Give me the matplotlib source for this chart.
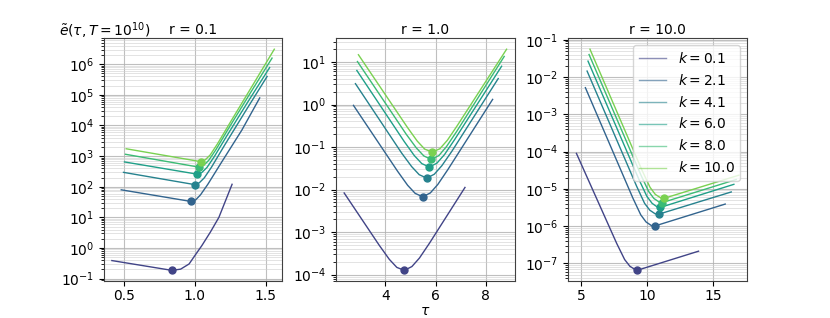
import numpy as np
import matplotlib
matplotlib.use('Agg')
import matplotlib.pyplot as plt

# parameters of the curves
k_values = [0.1, 2.1, 4.1, 6.0, 8.0, 10.0]
r_values = [0.1, 1.0, 10.0]

# r = 0.1 : tau and log10 of the error, one list per k
tau_r01 = [
    [0.415, 0.839, 0.90, 0.96, 1.00, 1.05, 1.11, 1.17, 1.263],
    [0.481, 0.973, 1.006, 1.041, 1.092, 1.182, 1.332, 1.458],
    [0.497, 0.999, 1.032, 1.067, 1.118, 1.208, 1.358, 1.510],
    [0.504, 1.018, 1.051, 1.086, 1.137, 1.227, 1.377, 1.528],
    [0.511, 1.030, 1.063, 1.098, 1.149, 1.239, 1.389, 1.545],
    [0.516, 1.041, 1.074, 1.109, 1.160, 1.250, 1.400, 1.561],
]
log_err_r01 = [
    [-0.41, -0.73, -0.69, -0.52, -0.25, 0.08, 0.52, 1.00, 2.08],
    [1.90, 1.52, 1.57, 1.74, 2.08, 2.75, 3.85, 4.90],
    [2.47, 2.07, 2.13, 2.29, 2.64, 3.34, 4.47, 5.60],
    [2.81, 2.41, 2.47, 2.63, 2.98, 3.67, 4.79, 5.89],
    [3.06, 2.64, 2.70, 2.86, 3.21, 3.91, 5.04, 6.20],
    [3.24, 2.82, 2.88, 3.04, 3.40, 4.10, 5.25, 6.49],
]
opt_tau_r01 = [0.839, 0.973, 0.999, 1.018, 1.030, 1.041]
opt_log_r01 = [-0.73, 1.52, 2.07, 2.41, 2.64, 2.82]

# r = 1.0
tau_r1 = [
    [2.359, 3.755, 4.155, 4.455, 4.755, 5.055, 5.355, 5.755, 7.167],
    [2.729, 4.486, 4.886, 5.186, 5.486, 5.786, 6.086, 6.486, 8.267],
    [2.808, 4.645, 5.045, 5.345, 5.645, 5.945, 6.245, 6.645, 8.490],
    [2.864, 4.749, 5.149, 5.449, 5.749, 6.049, 6.349, 6.749, 8.625],
    [2.888, 4.830, 5.230, 5.530, 5.830, 6.130, 6.430, 6.830, 8.728],
    [2.927, 4.867, 5.267, 5.567, 5.867, 6.167, 6.467, 6.867, 8.823],
]
log_err_r1 = [
    [-2.08, -3.31, -3.64, -3.83, -3.90, -3.81, -3.61, -3.26, -1.95],
    [-0.02, -1.57, -1.90, -2.09, -2.17, -2.08, -1.88, -1.53, 0.12],
    [0.49, -1.14, -1.46, -1.65, -1.73, -1.64, -1.44, -1.10, 0.61],
    [0.80, -0.87, -1.20, -1.39, -1.47, -1.38, -1.18, -0.83, 0.90],
    [1.01, -0.70, -1.02, -1.21, -1.29, -1.20, -0.99, -0.64, 1.13],
    [1.17, -0.53, -0.86, -1.05, -1.12, -1.04, -0.84, -0.49, 1.30],
]
opt_tau_r1 = [4.755, 5.486, 5.645, 5.749, 5.830, 5.867]
opt_log_r1 = [-3.90, -2.17, -1.73, -1.47, -1.29, -1.12]

# r = 10.0
tau_r10 = [
    [4.62, 7.688, 8.288, 8.688, 9.088, 9.225, 13.91],
    [5.30, 8.915, 9.515, 9.915, 10.315, 10.57, 15.94],
    [5.43, 9.204, 9.804, 10.204, 10.604, 10.897, 16.40],
    [5.50, 9.376, 9.976, 10.376, 10.776, 11.00, 16.60],
    [5.58, 9.513, 10.113, 10.513, 10.913, 11.155, 16.78],
    [5.65, 9.62, 10.22, 10.62, 11.02, 11.25, 16.98],
]
log_err_r10 = [
    [-4.05, -6.47, -6.90, -7.08, -7.17, -7.19, -6.675],
    [-2.285, -5.25, -5.70, -5.89, -5.985, -6.00, -5.41],
    [-1.84, -4.935, -5.39, -5.575, -5.67, -5.68, -5.085],
    [-1.573, -4.75, -5.20, -5.39, -5.49, -5.50, -4.88],
    [-1.395, -4.62, -5.07, -5.26, -5.355, -5.37, -4.75],
    [-1.253, -4.51, -4.96, -5.15, -5.24, -5.26, -4.635],
]
opt_tau_r10 = [9.225, 10.57, 10.897, 11.00, 11.155, 11.25]
opt_log_r10 = [-7.19, -6.00, -5.68, -5.50, -5.37, -5.26]

all_tau = [tau_r01, tau_r1, tau_r10]
all_log = [log_err_r01, log_err_r1, log_err_r10]
all_opt_tau = [opt_tau_r01, opt_tau_r1, opt_tau_r10]
all_opt_log = [opt_log_r01, opt_log_r1, opt_log_r10]

colors = plt.cm.viridis(np.linspace(0.2, 0.8, len(k_values)))

fig, axes = plt.subplots(1, 3, figsize=(8.3, 3.18), dpi=100)
plt.subplots_adjust(wspace=0.3, bottom=0.115)

for ax, r, taus, logs, ot, ol in zip(axes, r_values, all_tau, all_log, all_opt_tau, all_opt_log):
    for i, k in enumerate(k_values):
        ax.plot(taus[i], 10 ** np.array(logs[i]), color=colors[i], lw=1,
                label='$k = {}$'.format(k))
        ax.plot(ot[i], 10 ** ol[i], 'o', color=colors[i], ms=5)
    ax.set_yscale('log')
    ax.set_title('r = {}'.format(r), fontsize=10, pad=3)
    ax.grid(True, which='major', color='#b0b0b0', lw=0.8, alpha=0.8)
    ax.grid(True, which='minor', axis='y', color='#d0d0d0', lw=0.6, alpha=0.7)
    ax.tick_params(axis='x', pad=2)
    for s in ax.spines.values():
        s.set_edgecolor('#404040')

axes[0].text(-0.25, 0.99, r'$\tilde{e}(\tau, T = 10^{10})$', transform=axes[0].transAxes,
             fontsize=10, va='bottom', ha='left')
axes[1].set_xlabel(r'$\tau$', labelpad=1)
leg = axes[2].legend(loc='upper right')
for h in leg.get_lines():
    h.set_alpha(0.6)

plt.savefig('out.png', dpi=100)
